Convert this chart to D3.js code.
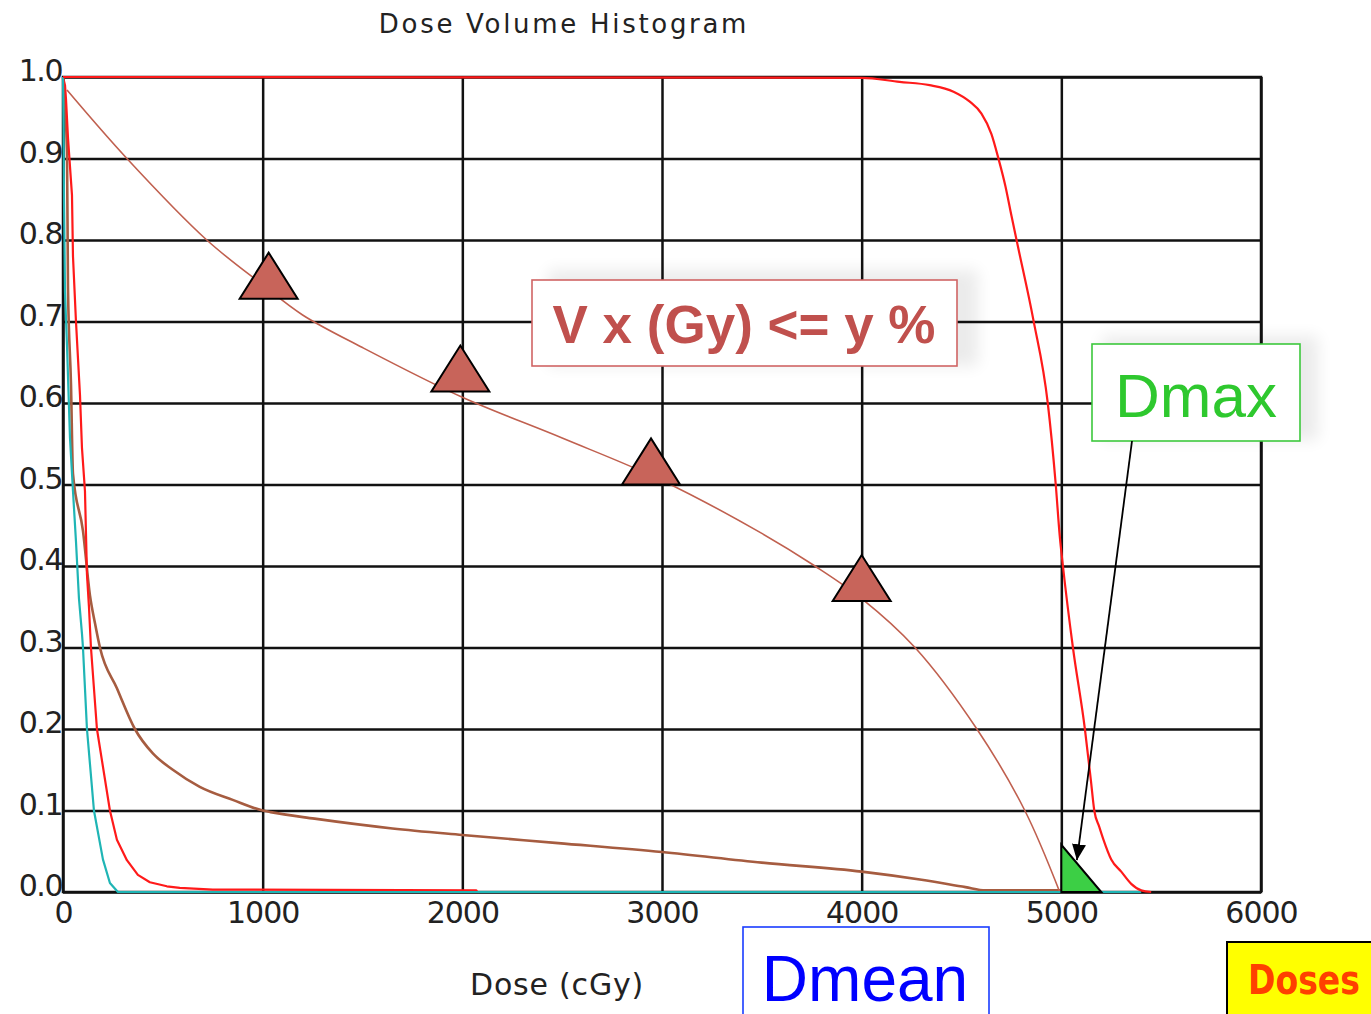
<!DOCTYPE html>
<html><head><meta charset="utf-8">
<style>
html, body { margin: 0; padding: 0; background: #fff; }
svg { display: block; }
</style></head>
<body>
<svg width="1371" height="1014"></svg>
<script src="https://d3js.org/d3.v7.min.js"></script>
<script>

// axis ticks
var doseTicks = [0, 1000, 2000, 3000, 4000, 5000, 6000],
    volTicks = [0, 0.1, 0.2, 0.3, 0.4, 0.5, 0.6, 0.7, 0.8, 0.9, 1.0];

// target (PTV) curve, red
var ptvDose = [0, 4000, 4190, 4340, 4460, 4540, 4600, 4650, 4685, 4720, 4750, 4780, 4860, 4932, 4972, 4992, 5008, 5058, 5118, 5148, 5165, 5190, 5210, 5250, 5300, 5350, 5400, 5450],
    ptvVol  = [1.0, 0.999, 0.994, 0.99, 0.982, 0.97, 0.955, 0.93, 0.9, 0.866, 0.83, 0.795, 0.702, 0.6, 0.5, 0.437, 0.4, 0.3, 0.2, 0.137, 0.1, 0.08, 0.065, 0.04, 0.025, 0.01, 0.002, 0];

// low dose organ, red
var oarRedDose = [0, 10, 15, 25, 45, 50, 65, 85, 95, 110, 120, 130, 140, 170, 235, 270, 320, 375, 435, 520, 585, 750, 2070, 2075],
    oarRedVol  = [1.0, 0.99, 0.973, 0.925, 0.855, 0.78, 0.7, 0.61, 0.545, 0.492, 0.39, 0.35, 0.3, 0.2, 0.1, 0.064, 0.039, 0.021, 0.012, 0.007, 0.005, 0.003, 0.002, 0];

// low dose organ, teal
var oarTealDose = [0, 3, 5, 10, 20, 35, 50, 65, 80, 95, 100, 120, 155, 200, 235, 275, 5400],
    oarTealVol  = [1.0, 0.93, 0.85, 0.737, 0.671, 0.557, 0.492, 0.43, 0.36, 0.317, 0.3, 0.2, 0.1, 0.04, 0.011, 0, 0];

// stepped organ, brown
var oarBrownDose = [0, 20, 25, 40, 50, 100, 135, 160, 185, 270, 360, 450, 550, 685, 850, 1000, 1040, 1260, 1650, 2000, 2480, 3000, 3500, 4000, 4300, 4520, 4620, 5000, 5005],
    oarBrownVol  = [1.0, 0.908, 0.741, 0.623, 0.513, 0.443, 0.364, 0.33, 0.3, 0.25, 0.2, 0.17, 0.15, 0.129, 0.113, 0.1, 0.098, 0.09, 0.078, 0.07, 0.06, 0.049, 0.036, 0.025, 0.015, 0.006, 0.002, 0.002, 0];

// smooth organ, thin sienna
var oarSmoothDose = [20, 320, 720, 1000, 1200, 1500, 2000, 2500, 3000, 3500, 3766, 4000, 4267, 4577, 4817, 4992],
    oarSmoothVol  = [0.984, 0.9, 0.8, 0.745, 0.708, 0.668, 0.607, 0.557, 0.505, 0.44, 0.4, 0.36, 0.3, 0.2, 0.1, 0];

// V x (Gy) constraints (triangle markers)
var constraintDose = [1030, 1990, 2945, 4000],
    constraintVol  = [0.728, 0.614, 0.5, 0.357];

// Dmax marker
var dmaxDose = 5000, dmaxWidth = 200, dmaxHeight = 0.058,
    dmaxArrowDose = 5078, dmaxArrowVol = 0.039;

var svg = d3.select("svg"),
    margin = {left: 63, top: 77, right: 110, bottom: 122},
    width = +svg.attr("width") - margin.left - margin.right,
    height = +svg.attr("height") - margin.top - margin.bottom;

var x = d3.scaleLinear().domain([0, 6000]).range([margin.left, margin.left + width]),
    y = d3.scaleLinear().domain([0, 1]).range([margin.top + height, margin.top]);

var tickFont = "'DejaVu Sans', sans-serif";

// defs: shadow + arrow
var defs = svg.append("defs");
defs.append("filter").attr("id", "soft").attr("x", "-20%").attr("y", "-40%").attr("width", "140%").attr("height", "180%")
    .append("feGaussianBlur").attr("stdDeviation", 8);
defs.append("marker").attr("id", "arrow")
    .attr("markerUnits", "userSpaceOnUse")
    .attr("markerWidth", 20).attr("markerHeight", 20)
    .attr("refX", 16).attr("refY", 7)
    .attr("orient", "auto")
  .append("path").attr("d", "M0,0 L16,7 L0,14 Z").attr("fill", "#000");

// title
svg.append("text")
    .attr("x", 564).attr("y", 33)
    .attr("text-anchor", "middle")
    .attr("font-family", tickFont).attr("font-size", 26)
    .attr("letter-spacing", 2.7)
    .attr("fill", "#222")
    .text("Dose Volume Histogram");

// grid + tick labels
var gx = svg.append("g")
    .attr("transform", "translate(0," + (margin.top + height) + ")")
    .call(d3.axisBottom(x).tickValues(doseTicks).tickFormat(d3.format("d"))
      .tickSize(-height).tickPadding(10));
var gy = svg.append("g")
    .attr("transform", "translate(" + margin.left + ",0)")
    .call(d3.axisLeft(y).tickValues(volTicks).tickFormat(d3.format(".1f"))
      .tickSize(-width).tickPadding(1));

[gx, gy].forEach(function(g) {
  g.select(".domain").remove();
  g.selectAll("line").attr("stroke", "#111").attr("stroke-width", 2.5);
  g.selectAll("text")
      .attr("font-family", tickFont).attr("font-size", 30)
      .attr("letter-spacing", -1).attr("fill", "#222");
});
gy.selectAll("text").attr("dy", "0.12em").attr("letter-spacing", -1.5);

// frame
svg.append("rect")
    .attr("x", x(0)).attr("y", y(1))
    .attr("width", x(6000) - x(0)).attr("height", y(0) - y(1))
    .attr("fill", "none").attr("stroke", "#111").attr("stroke-width", 2.5);

// curves
function zipPts(d, v) { return d.map(function(dd, i) { return [dd, v[i]]; }); }

var line = d3.line().x(function(p) { return x(p[0]); }).y(function(p) { return y(p[1]); });
var smooth = d3.line().curve(d3.curveCatmullRom.alpha(0.5)).x(function(p) { return x(p[0]); }).y(function(p) { return y(p[1]); });
var mono = d3.line().curve(d3.curveMonotoneX).x(function(p) { return x(p[0]); }).y(function(p) { return y(p[1]); });

var curves = [
  {pts: zipPts(oarBrownDose, oarBrownVol), color: "#a65c40", w: 2.6, gen: mono},
  {pts: zipPts(oarSmoothDose, oarSmoothVol), color: "#c0604f", w: 1.6, gen: smooth},
  {pts: zipPts(oarRedDose, oarRedVol), color: "#ff1a1a", w: 2.2, gen: line},
  {pts: zipPts(oarTealDose, oarTealVol), color: "#1fb5b5", w: 2.2, gen: line},
  {pts: zipPts(ptvDose, ptvVol), color: "#ff1a1a", w: 2.2, gen: mono}
];

svg.append("g").attr("fill", "none").attr("stroke-linejoin", "round")
  .selectAll("path")
  .data(curves)
  .enter().append("path")
    .attr("stroke", function(d) { return d.color; })
    .attr("stroke-width", function(d) { return d.w; })
    .attr("d", function(d) { return d.gen(d.pts); });

// constraint triangles
var triW = 58, triH = 46;
svg.append("g").selectAll("path")
  .data(zipPts(constraintDose, constraintVol))
  .enter().append("path")
    .attr("d", function(p) {
      var cx = x(p[0]), by = y(p[1]);
      return "M" + (cx - triW / 2) + "," + by + "L" + cx + "," + (by - triH) + "L" + (cx + triW / 2) + "," + by + "Z";
    })
    .attr("fill", "#c8645a").attr("stroke", "#000").attr("stroke-width", 2);

// Dmax triangle
svg.append("path")
    .attr("d", line([[dmaxDose, dmaxHeight], [dmaxDose, 0], [dmaxDose + dmaxWidth, 0]]) + "Z")
    .attr("fill", "#3ccf45").attr("stroke", "#000").attr("stroke-width", 2).attr("stroke-linejoin", "miter");

// V x (Gy) box
svg.append("rect").attr("x", 548).attr("y", 270).attr("width", 430).attr("height", 96)
    .attr("fill", "#000").attr("opacity", 0.08).attr("filter", "url(#soft)");
svg.append("rect").attr("x", 532).attr("y", 280).attr("width", 425).attr("height", 86)
    .attr("fill", "#fff").attr("stroke", "#d06464").attr("stroke-width", 1.6);
svg.append("text")
    .attr("x", 744).attr("y", 343).attr("text-anchor", "middle")
    .attr("font-family", "'Liberation Sans', Arial, sans-serif").attr("font-weight", "bold")
    .attr("font-size", 53).attr("fill", "#c0504d")
    .text("V x (Gy) <= y %");

// Dmax box
svg.append("rect").attr("x", 1102).attr("y", 336).attr("width", 216).attr("height", 104)
    .attr("fill", "#000").attr("opacity", 0.08).attr("filter", "url(#soft)");
svg.append("rect").attr("x", 1092).attr("y", 344).attr("width", 208).attr("height", 97)
    .attr("fill", "#fff").attr("stroke", "#3cc83c").attr("stroke-width", 1.6);
svg.append("text")
    .attr("x", 1196).attr("y", 417).attr("text-anchor", "middle")
    .attr("font-family", "'Liberation Sans', Arial, sans-serif")
    .attr("font-size", 62).attr("fill", "#2ec82e")
    .text("Dmax");
svg.append("line")
    .attr("x1", 1132).attr("y1", 441)
    .attr("x2", x(dmaxArrowDose)).attr("y2", y(dmaxArrowVol))
    .attr("stroke", "#000").attr("stroke-width", 1.8)
    .attr("marker-end", "url(#arrow)");

// x axis title
svg.append("text")
    .attr("x", 557).attr("y", 995).attr("text-anchor", "middle")
    .attr("font-family", tickFont).attr("font-size", 30)
    .attr("letter-spacing", 0.8).attr("fill", "#222")
    .text("Dose (cGy)");

// Dmean box
svg.append("rect").attr("x", 743).attr("y", 927).attr("width", 246).attr("height", 100)
    .attr("fill", "#fff").attr("stroke", "#1a3cff").attr("stroke-width", 1.6);
svg.append("text")
    .attr("x", 865).attr("y", 1001).attr("text-anchor", "middle")
    .attr("font-family", "'Liberation Sans', Arial, sans-serif")
    .attr("font-size", 64).attr("fill", "#0000ff")
    .text("Dmean");

// Doses box
svg.append("rect").attr("x", 1227).attr("y", 942).attr("width", 160).attr("height", 90)
    .attr("fill", "#ffff00").attr("stroke", "#000").attr("stroke-width", 2);
svg.append("text")
    .attr("x", 1248).attr("y", 994)
    .attr("font-family", "'DejaVu Sans', sans-serif").attr("font-weight", "bold")
    .attr("font-size", 40).attr("fill", "#ff4000")
    .attr("textLength", 112).attr("lengthAdjust", "spacingAndGlyphs")
    .text("Doses");

</script>
</body></html>
